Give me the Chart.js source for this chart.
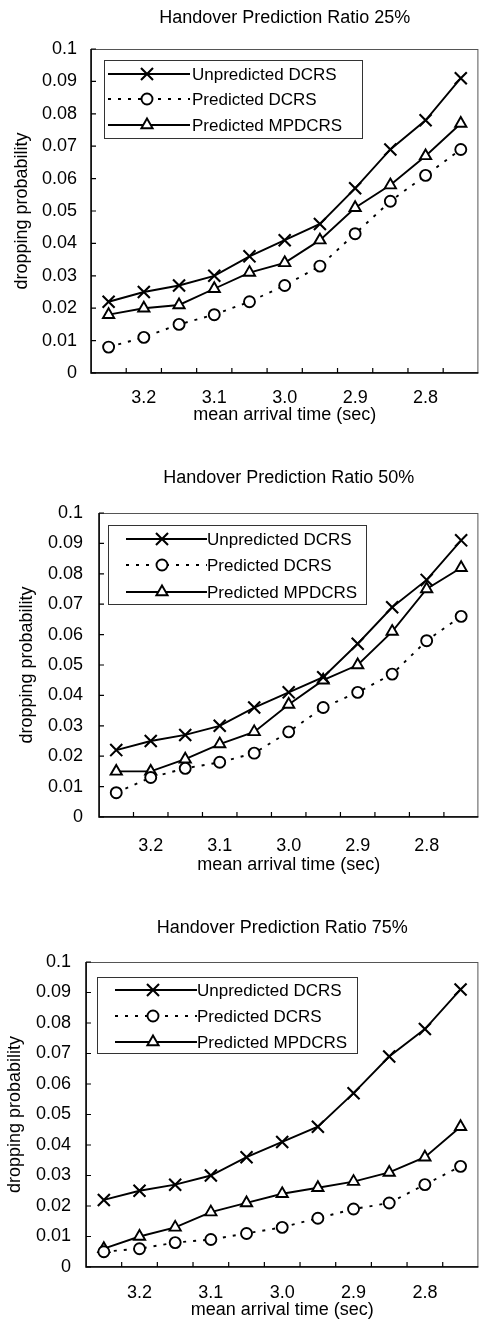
<!DOCTYPE html>
<html>
<head>
<meta charset="utf-8">
<script src="https://cdn.jsdelivr.net/npm/chart.js@4.4.1/dist/chart.umd.min.js"></script>
<style>
html,body{margin:0;padding:0;background:#fff;}
#wrap{position:relative;width:489px;height:1321px;overflow:hidden;}
canvas{position:absolute;left:0;display:block;}
</style>
</head>
<body>
<div id="wrap">
<canvas id="c1" width="489" height="440" style="top:0px"></canvas>
<canvas id="c2" width="489" height="440" style="top:440px"></canvas>
<canvas id="c3" width="489" height="441" style="top:880px"></canvas>
</div>
<script>
// ---- data ----
const categories = ['3.25','3.2','3.15','3.1','3.05','3.0','2.95','2.9','2.85','2.8','2.75'];
const xTickLabels = ['3.2','3.1','3.0','2.9','2.8'];
const yMin = 0, yMax = 0.1, yStep = 0.01;
const seriesNames = ['Unpredicted DCRS','Predicted DCRS','Predicted MPDCRS'];
const panelTitles = ['Handover Prediction Ratio 25%','Handover Prediction Ratio 50%','Handover Prediction Ratio 75%'];
const xAxisTitle = 'mean arrival time (sec)';
const yAxisTitle = 'dropping probability';

const unpredicted25 = [0.022,0.025,0.027,0.030,0.036,0.041,0.046,0.057,0.069,0.078,0.091];
const predicted25   = [0.008,0.011,0.015,0.018,0.022,0.027,0.033,0.043,0.053,0.061,0.069];
const mpdcrs25      = [0.018,0.020,0.021,0.026,0.031,0.034,0.041,0.051,0.058,0.067,0.077];

const unpredicted50 = [0.022,0.025,0.027,0.030,0.036,0.041,0.046,0.057,0.069,0.078,0.091];
const predicted50   = [0.008,0.013,0.016,0.018,0.021,0.028,0.036,0.041,0.047,0.058,0.066];
const mpdcrs50      = [0.015,0.015,0.019,0.024,0.028,0.037,0.045,0.050,0.061,0.075,0.082];

const unpredicted75 = [0.022,0.025,0.027,0.030,0.036,0.041,0.046,0.057,0.069,0.078,0.091];
const predicted75   = [0.005,0.006,0.008,0.009,0.011,0.013,0.016,0.019,0.021,0.027,0.033];
const mpdcrs75      = [0.006,0.010,0.013,0.018,0.021,0.024,0.026,0.028,0.031,0.036,0.046];

// ---- styling / layout ----
const FONT = "'Liberation Sans', Arial, Helvetica, sans-serif";
const FS = 18;
const LEGEND_FS = 17;
Chart.defaults.font.family = FONT;
Chart.defaults.color = '#000';

function drawMarker(ctx, ds, x, y) {
  const r = ds.pointRadius;
  ctx.save();
  ctx.setLineDash([]);
  ctx.lineWidth = ds.pointBorderWidth;
  ctx.strokeStyle = '#000';
  ctx.fillStyle = ds.pointBackgroundColor;
  ctx.beginPath();
  if (ds.pointStyle === 'crossRot') {
    const d = r * Math.SQRT1_2;
    ctx.moveTo(x - d, y - d); ctx.lineTo(x + d, y + d);
    ctx.moveTo(x + d, y - d); ctx.lineTo(x - d, y + d);
    ctx.stroke();
  } else if (ds.pointStyle === 'circle') {
    ctx.arc(x, y, r, 0, Math.PI * 2);
    ctx.fill(); ctx.stroke();
  } else {
    const s = Math.sin(Math.PI * 2 / 3) * r;
    ctx.moveTo(x, y - r); ctx.lineTo(x + s, y + r / 2); ctx.lineTo(x - s, y + r / 2);
    ctx.closePath(); ctx.fill(); ctx.stroke();
  }
  ctx.restore();
}

const framePlugin = {
  id: 'frame',
  beforeDatasetsDraw(chart) {
    const {ctx, chartArea: a, scales} = chart;
    const x = scales.x, y = scales.y;
    ctx.save();
    ctx.strokeStyle = '#555'; ctx.lineWidth = 1;
    ctx.strokeRect(a.left + 0.5, a.top + 0.5, a.width - 1, a.height - 1);
    ctx.strokeStyle = '#000'; ctx.lineWidth = 1.5;
    ctx.beginPath();
    ctx.moveTo(a.left, a.top); ctx.lineTo(a.left, a.bottom); ctx.lineTo(a.right, a.bottom);
    ctx.stroke();
    ctx.lineWidth = 1.2;
    ctx.beginPath();
    y.ticks.forEach((t, i) => { const py = y.getPixelForTick(i); ctx.moveTo(a.left, py); ctx.lineTo(a.left + 5, py); });
    const half = (x.getPixelForValue(1) - x.getPixelForValue(0)) / 2;
    for (let i = 0; i < categories.length - 1; i++) {
      const px = x.getPixelForValue(i) + half;
      ctx.moveTo(px, a.bottom); ctx.lineTo(px, a.bottom - 5);
    }
    ctx.stroke();
    ctx.restore();
  }
};

const legendPlugin = {
  id: 'boxLegend',
  afterDatasetsDraw(chart, args, o) {
    const {ctx, chartArea: a} = chart;
    const bx = a.left + o.dx, by = a.top + o.dy;
    ctx.save();
    ctx.fillStyle = '#fff';
    ctx.fillRect(bx, by, o.w, o.h);
    ctx.strokeStyle = '#333'; ctx.lineWidth = 1; ctx.setLineDash([]);
    ctx.strokeRect(bx + 0.5, by + 0.5, o.w, o.h);
    chart.data.datasets.forEach((ds, i) => {
      const yy = by + o.rows[i];
      ctx.strokeStyle = '#000'; ctx.lineWidth = ds.borderWidth;
      ctx.setLineDash(ds.borderDash || []);
      ctx.beginPath(); ctx.moveTo(bx + o.lineStart, yy); ctx.lineTo(bx + o.lineEnd, yy); ctx.stroke();
      ctx.setLineDash([]);
      drawMarker(ctx, ds, bx + o.markX, yy);
      ctx.fillStyle = '#000';
      ctx.font = LEGEND_FS + 'px ' + FONT;
      ctx.textBaseline = 'middle'; ctx.textAlign = 'left';
      ctx.fillText(ds.label, bx + o.textX, yy + 1);
    });
    ctx.restore();
  }
};

function makeDatasets(u, p, m) {
  return [
    { label: seriesNames[0], data: u, borderColor: '#000', borderWidth: 1.9, pointStyle: 'crossRot',
      pointRadius: 8.5, pointBorderWidth: 2.1, pointBackgroundColor: '#000', pointBorderColor: '#000', tension: 0 },
    { label: seriesNames[1], data: p, borderColor: '#000', borderWidth: 1.9, borderDash: [3, 7], pointStyle: 'circle',
      pointRadius: 5.5, pointBorderWidth: 1.9, pointBackgroundColor: '#fff', pointBorderColor: '#000', tension: 0 },
    { label: seriesNames[2], data: m, borderColor: '#000', borderWidth: 1.9, pointStyle: 'triangle',
      pointRadius: 6.5, pointBorderWidth: 1.9, pointBackgroundColor: '#fff', pointBorderColor: '#000', tension: 0 }
  ];
}

const panels = [
  { id: 'c1', H: 440, L: 91, R: 487, PB: 373, title: panelTitles[0], tTop: 7.2, tBot: 20.2,
    xPad: 14, xTitleBot: 14.2, yPad: 14, yTitleTop: 11.2, series: [unpredicted25, predicted25, mpdcrs25],
    legend: { dx: 13, dy: 11, w: 258, h: 78, rows: [14, 39, 65], lineStart: 4, lineEnd: 86, markX: 43, textX: 88 } },
  { id: 'c2', H: 440, L: 99, R: 483, PB: 377, title: panelTitles[1], tTop: 27.2, tBot: 24.2,
    xPad: 18, xTitleBot: 4.2, yPad: 16, yTitleTop: 16.2, series: [unpredicted50, predicted50, mpdcrs50],
    legend: { dx: 9, dy: 12, w: 258, h: 79, rows: [14, 40, 67], lineStart: 18, lineEnd: 99, markX: 54, textX: 99 } },
  { id: 'c3', H: 441, L: 86, R: 480, PB: 387, title: panelTitles[2], tTop: 37.2, tBot: 23.2,
    xPad: 15, xTitleBot: 0.2, yPad: 15, yTitleTop: 4.2, series: [unpredicted75, predicted75, mpdcrs75],
    legend: { dx: 11, dy: 15, w: 260, h: 76, rows: [13, 39, 65], lineStart: 18, lineEnd: 100, markX: 56, textX: 100 } }
];

panels.forEach(p => {
  new Chart(document.getElementById(p.id), {
    type: 'line',
    data: { labels: categories, datasets: makeDatasets(p.series[0], p.series[1], p.series[2]) },
    plugins: [framePlugin, legendPlugin],
    options: {
      responsive: false,
      animation: false,
      layout: { padding: { left: 0, right: 489 - p.R, top: 0, bottom: 0 } },
      plugins: {
        legend: { display: false },
        tooltip: { enabled: false },
        title: { display: true, text: p.title, fullSize: false, color: '#000',
                 font: { size: FS, weight: 'normal', family: FONT, lineHeight: 1.2 },
                 padding: { top: p.tTop, bottom: p.tBot } },
        boxLegend: p.legend
      },
      scales: {
        x: {
          type: 'category', offset: true,
          grid: { display: false, drawTicks: false, offset: true },
          border: { display: false },
          ticks: { autoSkip: false, maxRotation: 0, minRotation: 0, padding: p.xPad,
                   font: { size: FS }, color: '#000',
                   callback: function (v, i) { const l = categories[i]; return xTickLabels.includes(l) ? l : ''; } },
          title: { display: true, text: xAxisTitle, color: '#000', font: { size: FS, lineHeight: 1.2 },
                   padding: { top: 0, bottom: p.xTitleBot } },
          afterFit: s => { s.height = p.H - p.PB; }
        },
        y: {
          min: yMin, max: yMax,
          grid: { display: false, drawTicks: false },
          border: { display: false },
          ticks: { stepSize: yStep, padding: p.yPad, font: { size: FS }, color: '#000',
                   callback: v => String(+v.toFixed(2)) },
          title: { display: true, text: yAxisTitle, color: '#000', font: { size: FS, lineHeight: 1.2 },
                   padding: { top: p.yTitleTop, bottom: 0 } },
          afterFit: s => { s.width = p.L; }
        }
      }
    }
  });
});
</script>
</body>
</html>
